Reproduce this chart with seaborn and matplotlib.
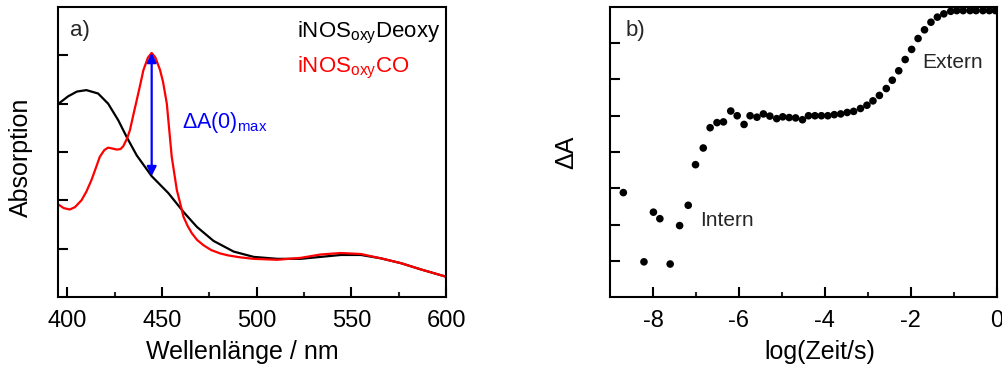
import numpy as np
import pandas as pd
import matplotlib
matplotlib.use("Agg")
import matplotlib.pyplot as plt
import seaborn as sns

# ---- Panel a data (arbitrary absorption units) ----
deoxy_nm = [395, 400.3, 405, 410, 416.2, 421.5, 426.8, 431.3, 436.6, 444.5, 453.3, 461.3,
            468.4, 477.2, 487.8, 498.4, 510.8, 523.2, 533.8, 544.4, 555, 565.6, 576.2,
            586.8, 600]
deoxy_abs = [3.99, 4.15, 4.25, 4.28, 4.21, 4.00, 3.66, 3.31, 2.93, 2.50, 2.15, 1.76,
             1.45, 1.16, 0.94, 0.83, 0.79, 0.79, 0.83, 0.87, 0.87, 0.80, 0.70,
             0.57, 0.42]

co_nm = [395, 398, 401.2, 404, 407.4, 410, 412.7, 415, 417.1, 419.5, 421.5, 424, 426.0,
         428, 429.5, 431.5, 433, 435, 436.6, 438.5, 440.1, 442.5, 444.5, 446.5, 448.9,
         450.5, 452.5, 455.1, 457.8, 459.5, 461.3, 463.5, 465.7, 468.5, 471.9, 476,
         480.8, 485, 491.4, 498.4, 510.8, 523.2, 533.8, 544.4, 555, 565.6, 576.2,
         586.8, 600]
co_abs = [1.92, 1.84, 1.81, 1.86, 2.00, 2.18, 2.42, 2.67, 2.90, 3.04, 3.09, 3.07, 3.05,
          3.06, 3.12, 3.28, 3.45, 3.80, 4.07, 4.40, 4.69, 4.95, 5.05, 4.95, 4.70,
          4.45, 4.00, 2.90, 2.21, 1.95, 1.66, 1.47, 1.32, 1.18, 1.07, 0.97,
          0.90, 0.86, 0.82, 0.79, 0.77, 0.81, 0.88, 0.91, 0.89, 0.80, 0.70,
          0.57, 0.42]

# ---- Panel b data ----
log_t = [-8.69, -8.21, -7.99, -7.84, -7.60, -7.38, -7.18, -7.01, -6.83, -6.67, -6.51,
         -6.36, -6.19, -6.04, -5.88, -5.74, -5.58, -5.43, -5.28, -5.12, -4.98, -4.83,
         -4.68, -4.52, -4.38, -4.23, -4.08, -3.93, -3.78, -3.63, -3.48, -3.33, -3.17,
         -3.02, -2.88, -2.73, -2.57, -2.43, -2.28, -2.13, -1.98, -1.83, -1.68, -1.53,
         -1.38, -1.23, -1.07, -0.93, -0.78, -0.62, -0.48, -0.32, -0.17, -0.03]
delta_a = [2.88, 0.97, 2.34, 2.16, 0.91, 1.97, 2.53, 3.65, 4.11, 4.67, 4.81,
           4.83, 5.13, 5.00, 4.76, 5.00, 4.96, 5.05, 4.99, 4.92, 4.97, 4.95,
           4.94, 4.89, 5.00, 5.00, 5.00, 5.00, 5.03, 5.05, 5.09, 5.12, 5.20,
           5.29, 5.41, 5.56, 5.75, 5.98, 6.24, 6.55, 6.83, 7.13, 7.37, 7.58,
           7.72, 7.81, 7.88, 7.90, 7.90, 7.90, 7.90, 7.90, 7.90, 7.90]

sns.set_theme(style="ticks")
plt.rcParams["font.family"] = ["Liberation Sans", "DejaVu Sans"]
plt.rcParams["mathtext.fontset"] = "custom"
plt.rcParams["mathtext.rm"] = "Liberation Sans"
plt.rcParams["mathtext.it"] = "Liberation Sans:italic"
plt.rcParams["mathtext.bf"] = "Liberation Sans:bold"
plt.rcParams["axes.unicode_minus"] = False

fig = plt.figure(figsize=(10.03, 3.67), dpi=100)
ax1 = fig.add_axes([0.0578, 0.1907, 0.3869, 0.7903])
ax2 = fig.add_axes([0.6082, 0.1907, 0.3855, 0.7903])

df_deoxy = pd.DataFrame({"nm": deoxy_nm, "A": deoxy_abs})
df_co = pd.DataFrame({"nm": co_nm, "A": co_abs})
sns.lineplot(data=df_deoxy, x="nm", y="A", ax=ax1, color="black", lw=1.6, sort=False)
sns.lineplot(data=df_co, x="nm", y="A", ax=ax1, color="#ff0000", lw=1.6, sort=False)

ax1.set_xlim(395, 600)
ax1.set_ylim(0, 6)
ax1.set_xticks([400, 450, 500, 550, 600])
ax1.set_xticks([425, 475, 525, 575], minor=True)
ax1.set_yticks([1, 2, 3, 4, 5])
ax1.set_xlabel("Wellenlänge / nm", fontsize=18, labelpad=6)
ax1.set_ylabel("Absorption", fontsize=18, labelpad=18)
ax1.xaxis.label.set_x(0.474)
ax1.yaxis.label.set_y(0.48)

# arrow from CO peak down to deoxy curve
i_pk = int(np.argmax(co_abs))
x_pk = co_nm[i_pk]
y_pk = co_abs[i_pk]
y_lo = float(np.interp(x_pk, deoxy_nm, deoxy_abs))
ax1.annotate("", xy=(x_pk, y_pk), xytext=(x_pk, y_lo),
             arrowprops=dict(arrowstyle="<|-|>", color="#0000ff", lw=1.6,
                             mutation_scale=14, shrinkA=0, shrinkB=0))
ax1.text(460.5, 3.49, r"ΔA(0)$_{\rm max}$", color="#0000ff", fontsize=15.5,
         va="baseline", ha="left")

ax1.text(0.03, 0.955, "a)", transform=ax1.transAxes, fontsize=16, va="top", ha="left")
ax1.text(0.615, 0.955, r"iNOS$_{\rm oxy}$Deoxy", transform=ax1.transAxes,
         fontsize=16, va="top", ha="left", color="black")
ax1.text(0.615, 0.835, r"iNOS$_{\rm oxy}$CO", transform=ax1.transAxes,
         fontsize=16, va="top", ha="left", color="#ff0000")

df_b = pd.DataFrame({"logt": log_t, "dA": delta_a})
sns.scatterplot(data=df_b, x="logt", y="dA", ax=ax2, color="black", s=30,
                edgecolor="none", linewidth=0)
ax2.set_xlim(-9, 0)
ax2.set_ylim(0, 8)
ax2.set_xticks([-8, -6, -4, -2, 0])
ax2.set_xticks([-7, -5, -3, -1], minor=True)
ax2.set_yticks([1, 2, 3, 4, 5, 6, 7])
ax2.set_xlabel("log(Zeit/s)", fontsize=18, labelpad=6)
ax2.set_ylabel("ΔA", fontsize=18, labelpad=23)
ax2.xaxis.label.set_x(0.543)
ax2.text(0.04, 0.955, "b)", transform=ax2.transAxes, fontsize=16, va="top", ha="left")
ax2.text(-6.90, 1.96, "Intern", fontsize=15, va="baseline", ha="left")
ax2.text(-1.735, 6.32, "Extern", fontsize=15, va="baseline", ha="left")

for ax in (ax1, ax2):
    for sp in ax.spines.values():
        sp.set_visible(True)
        sp.set_linewidth(1.5)
        sp.set_color("black")
    ax.tick_params(axis="both", which="major", direction="in", length=7, width=1.5,
                   labelsize=17, pad=9, colors="black")
    ax.tick_params(axis="both", which="minor", direction="in", length=3.5, width=1.5)
    ax.tick_params(top=False, right=False, labelleft=False, which="both")
    ax.xaxis.label.set_color("black")
    ax.yaxis.label.set_color("black")

fig.savefig("out.png", dpi=100)
